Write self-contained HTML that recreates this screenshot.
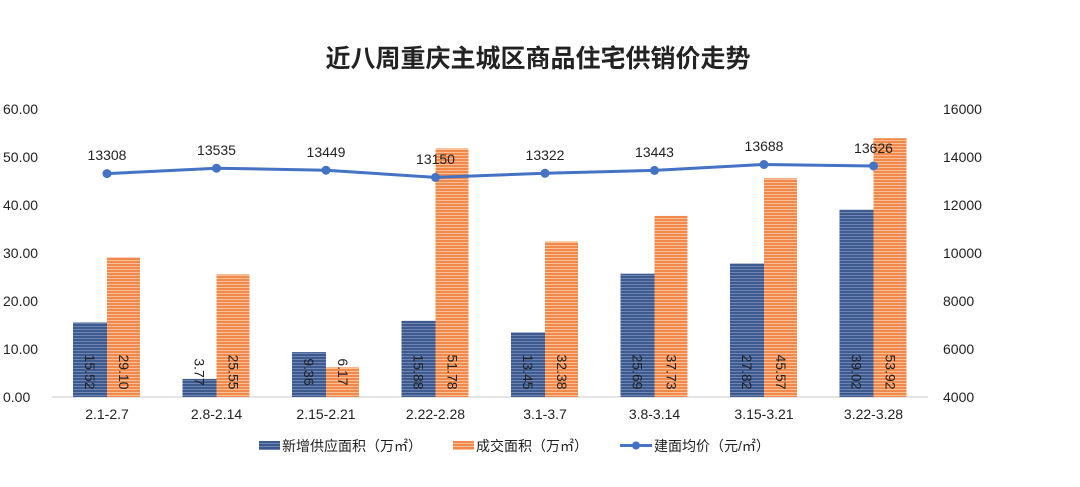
<!DOCTYPE html>
<html><head><meta charset="utf-8"><style>
html,body{margin:0;padding:0;background:#fff;}
svg{display:block;}
text{font-family:"Liberation Sans","Noto Sans CJK SC",sans-serif;fill:#222;}
</style></head><body>
<svg width="1080" height="487" viewBox="0 0 1080 487" xmlns="http://www.w3.org/2000/svg">
<defs>
<pattern id="pb" width="4" height="3" patternUnits="userSpaceOnUse">
<rect width="4" height="3" fill="#3d5a8f"/><rect y="2" width="4" height="1" fill="#6f86b4"/>
</pattern>
<pattern id="po" width="4" height="3" patternUnits="userSpaceOnUse">
<rect width="4" height="3" fill="#f0894a"/><rect y="2" width="4" height="1" fill="#f8bf98"/>
</pattern>
</defs>
<text x="538" y="67" text-anchor="middle" font-size="25" font-weight="bold" fill="#111">近八周重庆主城区商品住宅供销价走势</text>
<g font-size="14" text-anchor="start">
<text x="3" y="114">60.00</text><text x="3" y="162">50.00</text><text x="3" y="210">40.00</text>
<text x="3" y="258">30.00</text><text x="3" y="306">20.00</text><text x="3" y="354">10.00</text><text x="3" y="402">0.00</text>
<text x="943" y="114">16000</text><text x="943" y="162">14000</text><text x="943" y="210">12000</text>
<text x="943" y="258">10000</text><text x="943" y="306">8000</text><text x="943" y="354">6000</text><text x="943" y="402">4000</text>
</g>
<line x1="52" y1="397" x2="928" y2="397" stroke="#c8c8c8" stroke-width="1"/>
<g>
<rect x="73" y="322.5" width="34" height="74.5" fill="url(#pb)"/><rect x="107" y="257.3" width="33" height="139.7" fill="url(#po)"/>
<rect x="182.5" y="378.9" width="34" height="18.1" fill="url(#pb)"/><rect x="216.5" y="274.4" width="33" height="122.6" fill="url(#po)"/>
<rect x="292" y="352.1" width="34" height="44.9" fill="url(#pb)"/><rect x="326" y="367.4" width="33" height="29.6" fill="url(#po)"/>
<rect x="401.5" y="320.8" width="34" height="76.2" fill="url(#pb)"/><rect x="435.5" y="148.5" width="33" height="248.5" fill="url(#po)"/>
<rect x="511" y="332.4" width="34" height="64.6" fill="url(#pb)"/><rect x="545" y="241.6" width="33" height="155.4" fill="url(#po)"/>
<rect x="620.5" y="273.7" width="34" height="123.3" fill="url(#pb)"/><rect x="654.5" y="215.9" width="33" height="181.1" fill="url(#po)"/>
<rect x="730" y="263.5" width="34" height="133.5" fill="url(#pb)"/><rect x="764" y="178.3" width="33" height="218.7" fill="url(#po)"/>
<rect x="839.5" y="209.7" width="34" height="187.3" fill="url(#pb)"/><rect x="873.5" y="138.2" width="33" height="258.8" fill="url(#po)"/>
</g>
<g font-size="14" text-anchor="middle" dominant-baseline="central">
<text transform="translate(90,372) rotate(90)">15.52</text><text transform="translate(124,372) rotate(90)">29.10</text>
<text transform="translate(199.5,372) rotate(90)">3.77</text><text transform="translate(233.5,372) rotate(90)">25.55</text>
<text transform="translate(309,372) rotate(90)">9.36</text><text transform="translate(343,372) rotate(90)">6.17</text>
<text transform="translate(418.5,372) rotate(90)">15.88</text><text transform="translate(452.5,372) rotate(90)">51.78</text>
<text transform="translate(528,372) rotate(90)">13.45</text><text transform="translate(562,372) rotate(90)">32.38</text>
<text transform="translate(637.5,372) rotate(90)">25.69</text><text transform="translate(671.5,372) rotate(90)">37.73</text>
<text transform="translate(747,372) rotate(90)">27.82</text><text transform="translate(781,372) rotate(90)">45.57</text>
<text transform="translate(856.5,372) rotate(90)">39.02</text><text transform="translate(890.5,372) rotate(90)">53.92</text>
</g>
<polyline points="107,173.6 216.5,168.2 326,170.2 435.5,177.4 545,173.3 654.5,170.4 764,164.5 873.5,166" fill="none" stroke="#4472c4" stroke-width="3"/>
<g fill="#4472c4">
<circle cx="107" cy="173.6" r="4.5"/><circle cx="216.5" cy="168.2" r="4.5"/><circle cx="326" cy="170.2" r="4.5"/><circle cx="435.5" cy="177.4" r="4.5"/>
<circle cx="545" cy="173.3" r="4.5"/><circle cx="654.5" cy="170.4" r="4.5"/><circle cx="764" cy="164.5" r="4.5"/><circle cx="873.5" cy="166" r="4.5"/>
</g>
<g font-size="14" text-anchor="middle">
<text x="107" y="160">13308</text><text x="216.5" y="155">13535</text><text x="326" y="157">13449</text><text x="435.5" y="164">13150</text>
<text x="545" y="160">13322</text><text x="654.5" y="157">13443</text><text x="764" y="151">13688</text><text x="873.5" y="153">13626</text>
</g>
<g font-size="14" text-anchor="middle">
<text x="107" y="419">2.1-2.7</text><text x="216.5" y="419">2.8-2.14</text><text x="326" y="419">2.15-2.21</text><text x="435.5" y="419">2.22-2.28</text>
<text x="545" y="419">3.1-3.7</text><text x="654.5" y="419">3.8-3.14</text><text x="764" y="419">3.15-3.21</text><text x="873.5" y="419">3.22-3.28</text>
</g>
<g font-size="14">
<rect x="259" y="441" width="21" height="9" fill="url(#pb)"/>
<text x="282" y="451">新增供应面积（万㎡）</text>
<rect x="453" y="441" width="21" height="9" fill="url(#po)"/>
<text x="476" y="451">成交面积（万㎡）</text>
<line x1="620" y1="445.5" x2="652" y2="445.5" stroke="#4472c4" stroke-width="3"/>
<circle cx="636" cy="445.5" r="4" fill="#4472c4"/>
<text x="654" y="451">建面均价（元/㎡）</text>
</g>
</svg>
</body></html>
